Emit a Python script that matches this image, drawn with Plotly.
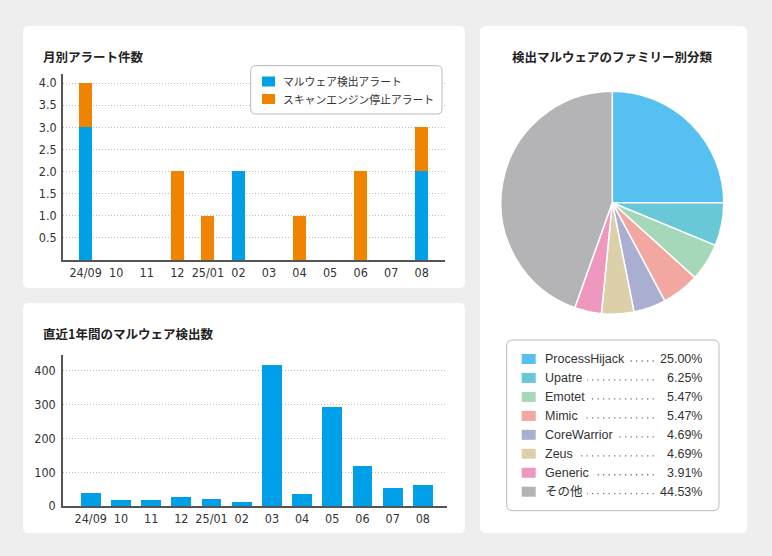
import plotly.graph_objects as go

# ---------------- data ----------------
months = ["24/09", "10", "11", "12", "25/01", "02", "03", "04", "05", "06", "07", "08"]
alert_malware = [3, 0, 0, 0, 0, 2, 0, 0, 0, 0, 0, 2]
alert_scan = [1, 0, 0, 2, 1, 0, 0, 1, 0, 2, 0, 1]
alert_series = ["マルウェア検出アラート", "スキャンエンジン停止アラート"]
alert_ticks = [0.5, 1.0, 1.5, 2.0, 2.5, 3.0, 3.5, 4.0]

detections = [38, 18, 18, 26, 20, 13, 417, 35, 292, 118, 54, 63]
detect_ticks = [0, 100, 200, 300, 400]

families = ["ProcessHijack", "Upatre", "Emotet", "Mimic", "CoreWarrior", "Zeus", "Generic", "その他"]
family_counts = [32, 8, 7, 7, 6, 6, 5, 57]

title1 = "月別アラート件数"
title2 = "直近1年間のマルウェア検出数"
title3 = "検出マルウェアのファミリー別分類"

# ---------------- style ----------------
W, H = 772, 556
BLUE = "#00a0e9"
ORANGE = "#f08300"
family_colors = ["#56c1f0", "#68c8d8", "#a5d8b8", "#f2a7a1", "#aaaed1", "#dcd0aa", "#ee97bf", "#b4b4b6"]
TXT = "#333333"
AX = "#555555"
TICKFONT = dict(family="Liberation Sans Narrow, DejaVu Sans Condensed, Liberation Sans, Arial", size=12.5, color=TXT)
CJK = "Noto Sans CJK JP, Noto Sans, sans-serif"
LATIN = "Liberation Sans, Arial, Noto Sans CJK JP, sans-serif"
GRID = dict(showgrid=True, gridcolor="#bdbdbd", griddash="1px,2px", gridwidth=1)


def px(x):
    return x / W


def py(y):
    return 1 - y / H


def rrect(x0, y0, x1, y1, r, fill, line=None, lw=0):
    X0, X1 = px(x0), px(x1)
    Y0, Y1 = py(y0), py(y1)
    rx, ry = r / W, r / H
    path = (f"M{X0+rx},{Y0} L{X1-rx},{Y0} Q{X1},{Y0} {X1},{Y0-ry} "
            f"L{X1},{Y1+ry} Q{X1},{Y1} {X1-rx},{Y1} L{X0+rx},{Y1} "
            f"Q{X0},{Y1} {X0},{Y1+ry} L{X0},{Y0-ry} Q{X0},{Y0} {X0+rx},{Y0} Z")
    return dict(type="path", path=path, xref="paper", yref="paper",
                fillcolor=fill, line=dict(color=line or fill, width=lw), layer="below")


fig = go.Figure()

# chart 1 : stacked bars
fig.add_trace(go.Bar(x=months, y=alert_malware, name=alert_series[0], marker_color=BLUE,
                     marker_line_width=0, width=0.43, xaxis="x", yaxis="y", showlegend=False))
fig.add_trace(go.Bar(x=months, y=alert_scan, name=alert_series[1], marker_color=ORANGE,
                     marker_line_width=0, width=0.43, xaxis="x", yaxis="y", showlegend=False))

# chart 2 : bars
fig.add_trace(go.Bar(x=months, y=detections, marker_color=BLUE, marker_line_width=0,
                     width=0.66, xaxis="x2", yaxis="y2", showlegend=False))

# chart 3 : pie
fig.add_trace(go.Pie(labels=families, values=family_counts, sort=False, direction="clockwise",
                     rotation=0, textinfo="none", hoverinfo="label+percent",
                     marker=dict(colors=family_colors, line=dict(color="white", width=1.5)),
                     domain=dict(x=[px(500.8), px(723.8)], y=[py(314.2), py(91.2)]),
                     showlegend=False))

shapes = [
    rrect(23, 26, 465, 288, 6, "white"),
    rrect(23, 303, 465, 533, 6, "white"),
    rrect(480, 26, 747, 533, 6, "white"),
]
annotations = []

# titles
annotations.append(dict(text=f"<b>{title1}</b>", x=px(41), y=py(56), xref="paper", yref="paper",
                        xanchor="left", yanchor="middle", showarrow=False,
                        font=dict(family=CJK, size=12.5, color="#222")))
annotations.append(dict(text=f"<b>{title2}</b>", x=px(41), y=py(333), xref="paper", yref="paper",
                        xanchor="left", yanchor="middle", showarrow=False,
                        font=dict(family=CJK, size=12.5, color="#222")))
annotations.append(dict(text=f"<b>{title3}</b>", x=px(612.3), y=py(56), xref="paper", yref="paper",
                        xanchor="center", yanchor="middle", showarrow=False,
                        font=dict(family=CJK, size=12.5, color="#222")))

# chart 1 legend
shapes.append(rrect(250.7, 65.7, 442, 114, 5, "white", line="#bbbbbb", lw=1))
shapes[-1]["layer"] = "above"
for i, (name, col) in enumerate(zip(alert_series, [BLUE, ORANGE])):
    cy = 81.5 + i * 17.5
    shapes.append(dict(type="rect", xref="paper", yref="paper", x0=px(262), x1=px(275),
                       y0=py(cy - 5), y1=py(cy + 5), fillcolor=col, line=dict(width=0)))
    annotations.append(dict(text=name, x=px(281), y=py(cy), xref="paper", yref="paper",
                            xanchor="left", yanchor="middle", showarrow=False,
                            font=dict(family=CJK, size=10.8, color=TXT)))

# pie legend
shapes.append(rrect(506.7, 340, 719, 510.7, 6, "white", line="#bbbbbb", lw=1))
total = sum(family_counts)
for i, (name, cnt, col) in enumerate(zip(families, family_counts, family_colors)):
    cy = 359 + i * 18.96
    shapes.append(dict(type="rect", xref="paper", yref="paper", x0=px(521.7), x1=px(535.7),
                       y0=py(cy - 5), y1=py(cy + 5), fillcolor=col, line=dict(width=0)))
    shapes.append(dict(type="line", xref="paper", yref="paper", x0=px(548), x1=px(656),
                       y0=py(cy + 2), y1=py(cy + 2), line=dict(color="#777", width=1.3, dash="1.3px,4.2px")))
    annotations.append(dict(text=name, x=px(541), y=py(cy), xref="paper", yref="paper",
                            xanchor="left", yanchor="middle", showarrow=False, bgcolor="white",
                            borderpad=4, borderwidth=0,
                            font=dict(family=LATIN, size=12.5, color=TXT)))
    annotations.append(dict(text=f"{cnt / total * 100:.2f}%", x=px(702), y=py(cy), xref="paper",
                            yref="paper", xanchor="right", yanchor="middle", showarrow=False,
                            bgcolor="white", borderpad=0, borderwidth=0,
                            font=dict(family=LATIN, size=12.5, color=TXT)))

axis_common = dict(showline=True, linecolor=AX, linewidth=1.5, ticks="", tickfont=TICKFONT,
                   fixedrange=True, automargin=False)

fig.update_layout(
    width=W, height=H, autosize=False,
    margin=dict(l=0, r=0, t=0, b=0, pad=0, autoexpand=False),
    paper_bgcolor="#eeeeef", plot_bgcolor="rgba(0,0,0,0)",
    barmode="stack", bargap=0,
    shapes=shapes, annotations=annotations,
    xaxis=dict(domain=[px(63), px(445)], anchor="y", type="category", range=[-0.74, 11.76],
               showgrid=False, categoryorder="array", categoryarray=months, **axis_common),
    yaxis=dict(domain=[py(260), py(74.15)], anchor="x", range=[0, 4.2], tickvals=alert_ticks,
               tickformat=".1f", zeroline=False, ticklabelstandoff=2, **GRID, **axis_common),
    xaxis2=dict(domain=[px(63), px(447)], anchor="y2", type="category", range=[-0.92, 11.8],
                showgrid=False, categoryorder="array", categoryarray=months, **axis_common),
    yaxis2=dict(domain=[py(506), py(355)], anchor="x2", range=[0, 446], tickvals=detect_ticks,
                zeroline=False, ticklabelstandoff=3, **GRID, **axis_common),
    font=dict(family=LATIN, color=TXT),
)

post = """
var d=document.documentElement, b=document.body;
d.style.margin='0';d.style.padding='0';d.style.overflow='hidden';
b.style.margin='0';b.style.padding='0';b.style.overflow='hidden';b.style.height='556px';
"""
fig.write_html("out.html", config={"displayModeBar": False}, post_script=post)
